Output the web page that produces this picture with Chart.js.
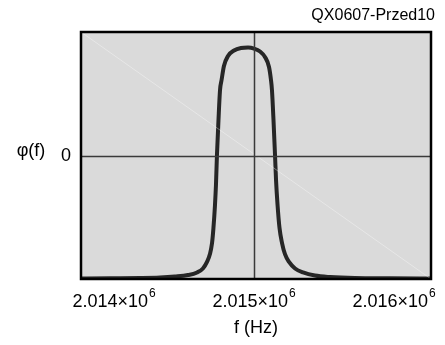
<!DOCTYPE html>
<html>
<head>
<meta charset="utf-8">
<script src="https://cdn.jsdelivr.net/npm/chart.js@4/dist/chart.umd.min.js"></script>
<style>
  html, body { margin: 0; padding: 0; background: #ffffff; }
  #wrap { width: 445px; height: 345px; }
</style>
</head>
<body>
<div id="wrap"><canvas id="phase-chart" width="445" height="345"></canvas></div>
<script>
// 周波数 (Hz)
const freqs = [
    2013764, 2013971, 2014185, 2014328, 2014435, 2014528, 2014593, 2014635,
    2014664, 2014685, 2014700, 2014710, 2014721, 2014728, 2014735, 2014746,
    2014757, 2014768, 2014785, 2014814, 2014857, 2014907, 2014957, 2015000,
    2015043, 2015078, 2015107, 2015121, 2015128, 2015139, 2015150, 2015157,
    2015168, 2015182, 2015200, 2015221, 2015250, 2015293, 2015350, 2015435,
    2015543, 2015721, 2015971, 2016264
];
// φ(f)
const phi = [
    -0.996, -0.994, -0.992, -0.988, -0.980, -0.968, -0.947, -0.915,
    -0.862, -0.798, -0.709, -0.587, -0.401, -0.239, 0.0, 0.287,
    0.530, 0.611, 0.725, 0.806, 0.850, 0.870, 0.874, 0.866,
    0.842, 0.798, 0.717, 0.611, 0.530, 0.287, 0.0, -0.198,
    -0.401, -0.587, -0.709, -0.798, -0.862, -0.915, -0.947, -0.972,
    -0.984, -0.992, -0.994, -0.996
];

// 軸範囲と目盛り
const xRange = [2013764, 2016264];
const yRange = [-1, 1];
const xTicks = [2014000, 2015000, 2016000];
const xMarker = 2015000;
const yMarker = 0;

const chartTitle = 'QX0607-Przed10';
const xTitle = 'f (Hz)';
const yTitle = 'φ(f)';

const FONT = "'Liberation Sans', Arial, sans-serif";

// 背景・枠線・マーカー・文字
const framePlugin = {
    id: 'frame',
    beforeDatasetsDraw(chart) {
        const { ctx, chartArea: a } = chart;
        ctx.save();
        ctx.fillStyle = '#dadada';
        ctx.fillRect(a.left, a.top, a.right - a.left, a.bottom - a.top);
        ctx.restore();
    },
    afterDatasetsDraw(chart) {
        const { ctx, chartArea: a, scales } = chart;
        const x = scales.x, y = scales.y;
        ctx.save();

        // マーカー線
        ctx.strokeStyle = '#3a3a3a';
        ctx.lineWidth = 1.5;
        const mx = Math.round(x.getPixelForValue(xMarker)) + 0.5;
        const my = Math.round(y.getPixelForValue(yMarker)) + 0.5;
        ctx.beginPath();
        ctx.moveTo(mx, a.top);
        ctx.lineTo(mx, a.bottom);
        ctx.moveTo(a.left, my);
        ctx.lineTo(a.right, my);
        ctx.stroke();

        // 枠
        ctx.strokeStyle = '#000000';
        ctx.lineWidth = 2.5;
        ctx.strokeRect(a.left, a.top, a.right - a.left, a.bottom - a.top);

        // x 目盛りラベル (×10⁶ 表記)
        ctx.fillStyle = '#000000';
        ctx.textBaseline = 'alphabetic';
        xTicks.forEach(v => {
            const main = (v / 1e6).toFixed(3) + '×10';
            ctx.font = '18px ' + FONT;
            const w1 = ctx.measureText(main).width;
            ctx.font = '12px ' + FONT;
            const w2 = ctx.measureText('6').width;
            const px = x.getPixelForValue(v);
            const start = px - (w1 + w2 + 1) / 2;
            ctx.font = '18px ' + FONT;
            ctx.textAlign = 'left';
            ctx.fillText(main, start, 307);
            ctx.font = '12px ' + FONT;
            ctx.fillText('6', start + w1 + 1, 297);
        });

        // y ラベル
        ctx.font = '18px ' + FONT;
        ctx.textAlign = 'center';
        ctx.textBaseline = 'middle';
        ctx.fillText(String(yMarker), 66, y.getPixelForValue(yMarker) + 1);
        ctx.fillText(yTitle, 31, 151);

        // 軸タイトル
        ctx.fillText(xTitle, 256, 328);

        // 右上のタイトル
        ctx.font = '16px ' + FONT;
        ctx.textAlign = 'right';
        ctx.textBaseline = 'alphabetic';
        ctx.fillText(chartTitle, 435, 20);

        ctx.restore();
    }
};

const ctx = document.getElementById('phase-chart').getContext('2d');
new Chart(ctx, {
    type: 'line',
    data: {
        datasets: [
            {
                // 対角の薄い線
                data: [{ x: xRange[0], y: yRange[1] }, { x: xRange[1], y: yRange[0] }],
                borderColor: 'rgba(255, 255, 255, 0.35)',
                borderWidth: 1,
                pointRadius: 0,
                fill: false
            },
            {
                label: yTitle,
                data: freqs.map((f, i) => ({ x: f, y: phi[i] })),
                borderColor: '#262626',
                borderWidth: 4,
                pointRadius: 0,
                cubicInterpolationMode: 'monotone',
                fill: false
            }
        ]
    },
    options: {
        responsive: false,
        animation: false,
        events: [],
        layout: {
            padding: { left: 81, top: 32, right: 14, bottom: 66 }
        },
        plugins: {
            legend: { display: false },
            tooltip: { enabled: false }
        },
        scales: {
            x: {
                type: 'linear',
                min: xRange[0],
                max: xRange[1],
                display: false
            },
            y: {
                type: 'linear',
                min: yRange[0],
                max: yRange[1],
                display: false
            }
        }
    },
    plugins: [framePlugin]
});
</script>
</body>
</html>
